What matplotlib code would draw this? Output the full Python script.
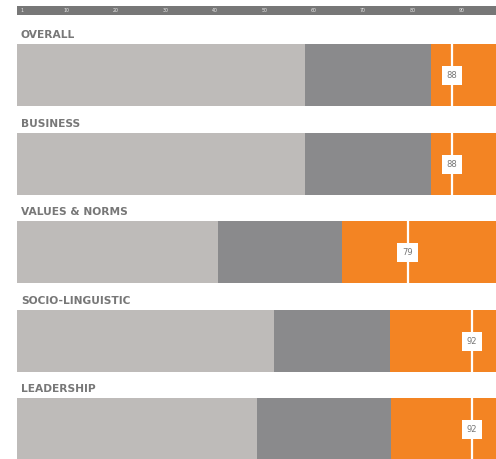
import matplotlib.pyplot as plt
from matplotlib.patches import Rectangle

# data
categories = ['OVERALL', 'BUSINESS', 'VALUES & NORMS', 'SOCIO-LINGUISTIC', 'LEADERSHIP']
light_end = [58.3, 58.3, 40.7, 52.0, 48.6]
dark_end = [83.7, 83.7, 65.8, 75.4, 75.7]
scores = [88, 88, 79, 92, 92]
tick_values = [1, 10, 20, 30, 40, 50, 60, 70, 80, 90]

X_MAX = 96.9
LIGHT = '#bebbb9'
DARK = '#8a8a8c'
ORANGE = '#f38423'
TEXT = '#777777'

W, H = 496, 459
fig = plt.figure(figsize=(W / 100, H / 100), dpi=100)
ax = fig.add_axes([17 / W, 0, (W - 17) / W, 1])
ax.set_xlim(0, X_MAX)
ax.set_ylim(H, 0)
ax.axis('off')

# scale band on top
ax.add_patch(Rectangle((0, 6), X_MAX, 8.5, color='#777777', lw=0, clip_on=False))
for t in tick_values:
    ax.text(t, 10.3, str(t), ha='center', va='center', fontsize=3.4, color='#e8e8e8')

bar_h = 62
for i, cat in enumerate(categories):
    yc = 75 + i * 88.6
    ax.barh(yc, light_end[i], height=bar_h, color=LIGHT, lw=0)
    ax.barh(yc, dark_end[i] - light_end[i], left=light_end[i], height=bar_h, color=DARK, lw=0)
    ax.barh(yc, X_MAX - dark_end[i], left=dark_end[i], height=bar_h, color=ORANGE, lw=0)
    ax.text(0.8, yc - bar_h / 2 - 9, cat, ha='left', va='center', fontsize=7.7,
            fontweight='bold', color=TEXT, family='DejaVu Sans')
    # score marker
    ax.plot([scores[i], scores[i]], [yc - bar_h / 2, yc + bar_h / 2], color='white', lw=1.6,
            solid_capstyle='butt')
    ax.text(scores[i], yc + 0.5, str(scores[i]), ha='center', va='center', fontsize=6,
            color=TEXT, bbox=dict(boxstyle='square,pad=0.6', fc='white', ec='none'))

fig.savefig('out.png', dpi=100)
